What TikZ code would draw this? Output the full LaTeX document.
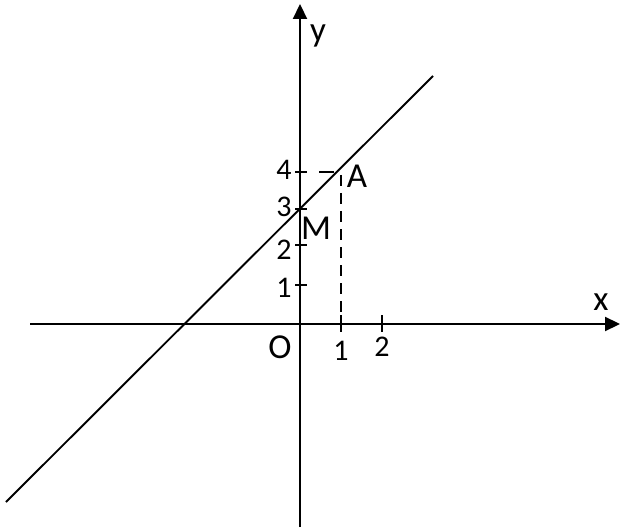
\documentclass[tikz,border=0pt]{standalone}
\usepackage{fontspec}
\setmainfont{Carlito}
\usetikzlibrary{arrows.meta}
\begin{document}
\begin{tikzpicture}[x=1pt,y=-1pt,
  axis/.style={line width=2.2pt,-{Triangle[length=15pt,width=14pt]}},
  tick/.style={line width=1.8pt},
  dashline/.style={line width=1.8pt,dash pattern=on 11pt off 7pt},
  lbl/.style={font=\fontsize{35}{35}\selectfont,inner sep=0pt},
  num/.style={font=\fontsize{30}{30}\selectfont,inner sep=0pt}]
\useasboundingbox (0,0) rectangle (620,529);
% axes
\coordinate (xs) at (30,324);
\coordinate (xe) at (620,324);
\coordinate (ys) at (300,527);
\coordinate (ye) at (300,4);
\draw[axis] (xs) -- (xe);
\draw[axis] (ys) -- (ye);
% line
\coordinate (L1) at (6,502);
\coordinate (L2) at (433,76);
\draw[line width=1.9pt] (L1) -- (L2);
% points
\coordinate (Ap) at (341,172);
\coordinate (Ax) at (341,324);
% y ticks
\foreach \yy/\t/\ly in {285/1/288, 245/2/250, 209/3/207, 172/4/170}{
  \draw[tick] (295,\yy) -- (307,\yy);
  \node[num] at (284,\ly) {\t};
}
% x ticks
\foreach \xx/\t/\ly in {341/1/351, 382/2/347}{
  \draw[tick] (\xx,315) -- (\xx,332);
  \node[num] at (\xx,\ly) {\t};
}
% dashed
\draw[dashline] (341,175) -- (Ax);
\draw[line width=1.8pt] (319,172) -- (334,172);
% labels
\node[lbl] (O) at (280,347) {O};
\node[lbl] (M) at (316,228) {M};
\node[lbl] (A) at (357,176) {A};
\node[lbl] (y) at (318,36) {y};
\node[lbl] (x) at (601,302) {x};
\end{tikzpicture}
\end{document}
